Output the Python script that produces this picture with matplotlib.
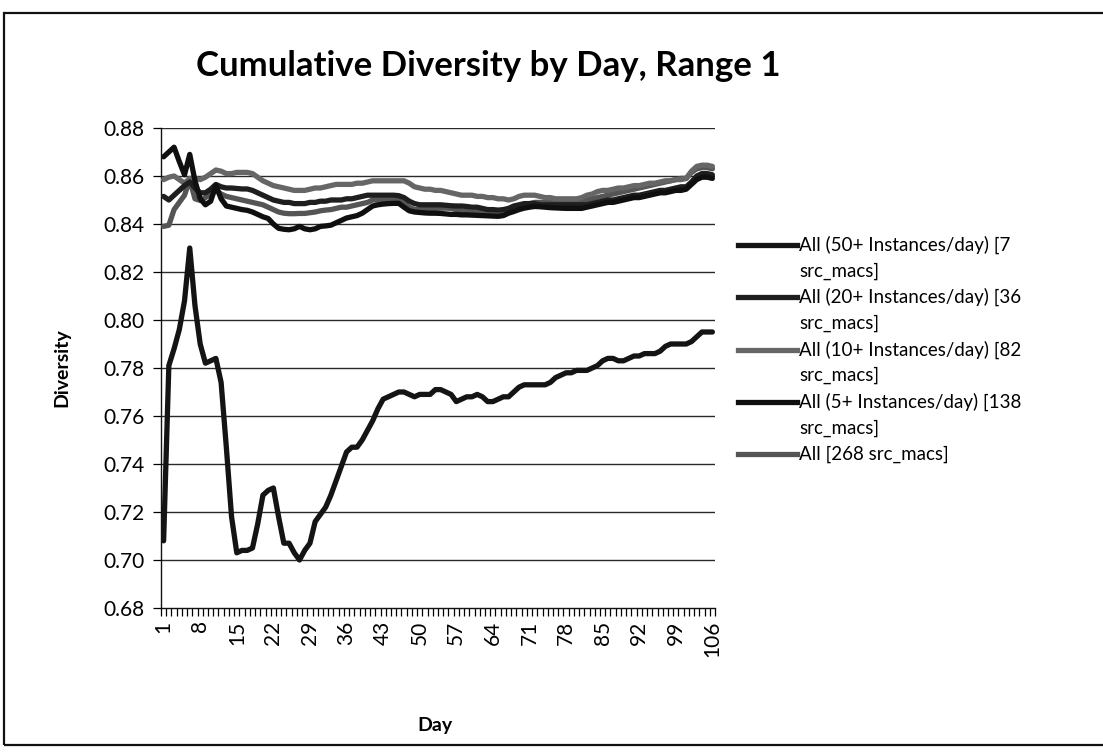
import matplotlib
matplotlib.use("Agg")
import matplotlib.pyplot as plt
from matplotlib.lines import Line2D
from matplotlib.patches import Rectangle

plt.rcParams['font.family'] = ['Lato', 'DejaVu Sans']

title = "Cumulative Diversity by Day, Range 1"
x_label = "Day"
y_label = "Diversity"

days = list(range(1, 107))
x_tick_days = [1, 8, 15, 22, 29, 36, 43, 50, 57, 64, 71, 78, 85, 92, 99, 106]
y_ticks = [0.68, 0.70, 0.72, 0.74, 0.76, 0.78, 0.80, 0.82, 0.84, 0.86, 0.88]

labels = [
    "All (50+ Instances/day) [7\nsrc_macs]",
    "All (20+ Instances/day) [36\nsrc_macs]",
    "All (10+ Instances/day) [82\nsrc_macs]",
    "All (5+ Instances/day) [138\nsrc_macs]",
    "All [268 src_macs]",
]

inst_50 = [
    0.708, 0.781, 0.788, 0.796, 0.808, 0.830, 0.806, 0.790, 0.782, 0.783,
    0.784, 0.774, 0.747, 0.718, 0.703, 0.704, 0.704, 0.705, 0.715, 0.727,
    0.729, 0.730, 0.718, 0.707, 0.707, 0.703, 0.700, 0.704, 0.707, 0.716,
    0.719, 0.722, 0.727, 0.733, 0.739, 0.745, 0.747, 0.747, 0.750, 0.754,
    0.758, 0.763, 0.767, 0.768, 0.769, 0.770, 0.770, 0.769, 0.768, 0.769,
    0.769, 0.769, 0.771, 0.771, 0.770, 0.769, 0.766, 0.767, 0.768, 0.768,
    0.769, 0.768, 0.766, 0.766, 0.767, 0.768, 0.768, 0.770, 0.772, 0.773,
    0.773, 0.773, 0.773, 0.773, 0.774, 0.776, 0.777, 0.778, 0.778, 0.779,
    0.779, 0.779, 0.780, 0.781, 0.783, 0.784, 0.784, 0.783, 0.783, 0.784,
    0.785, 0.785, 0.786, 0.786, 0.786, 0.787, 0.789, 0.790, 0.790, 0.790,
    0.790, 0.791, 0.793, 0.795, 0.795, 0.795,
]

inst_20 = [
    0.8515, 0.8500, 0.8520, 0.8540, 0.8560, 0.8575, 0.8550, 0.8530, 0.8530, 0.8545,
    0.8565, 0.8555, 0.8550, 0.8550, 0.8548, 0.8546, 0.8546, 0.8540, 0.8530, 0.8520,
    0.8510, 0.8500, 0.8495, 0.8490, 0.8490, 0.8485, 0.8485, 0.8485, 0.8490, 0.8490,
    0.8495, 0.8495, 0.8500, 0.8500, 0.8500, 0.8505, 0.8505, 0.8510, 0.8515, 0.8520,
    0.8520, 0.8520, 0.8520, 0.8520, 0.8520, 0.8518, 0.8510, 0.8495, 0.8485, 0.8480,
    0.8480, 0.8480, 0.8480, 0.8480, 0.8478, 0.8476, 0.8475, 0.8475, 0.8473, 0.8470,
    0.8470, 0.8465, 0.8460, 0.8460, 0.8458, 0.8460, 0.8465, 0.8475, 0.8480, 0.8485,
    0.8485, 0.8485, 0.8480, 0.8480, 0.8480, 0.8480, 0.8480, 0.8480, 0.8480, 0.8480,
    0.8480, 0.8480, 0.8485, 0.8490, 0.8495, 0.8500, 0.8500, 0.8505, 0.8510, 0.8515,
    0.8520, 0.8520, 0.8525, 0.8530, 0.8535, 0.8540, 0.8540, 0.8545, 0.8550, 0.8555,
    0.8555, 0.8575, 0.8600, 0.8610, 0.8610, 0.8605,
]

inst_10 = [
    0.8585, 0.8595, 0.8600, 0.8585, 0.8570, 0.8590, 0.8590, 0.8585, 0.8595, 0.8610,
    0.8625, 0.8620, 0.8610, 0.8610, 0.8615, 0.8615, 0.8615, 0.8610, 0.8595, 0.8580,
    0.8570, 0.8560, 0.8555, 0.8550, 0.8545, 0.8540, 0.8540, 0.8540, 0.8545, 0.8550,
    0.8550, 0.8555, 0.8560, 0.8565, 0.8565, 0.8565, 0.8565, 0.8570, 0.8570, 0.8575,
    0.8580, 0.8580, 0.8580, 0.8580, 0.8580, 0.8580, 0.8580, 0.8570, 0.8555, 0.8550,
    0.8545, 0.8545, 0.8540, 0.8540, 0.8535, 0.8530, 0.8525, 0.8520, 0.8520, 0.8520,
    0.8515, 0.8515, 0.8510, 0.8510, 0.8505, 0.8505, 0.8500, 0.8505, 0.8515, 0.8520,
    0.8520, 0.8520, 0.8515, 0.8510, 0.8510, 0.8505, 0.8505, 0.8505, 0.8505, 0.8505,
    0.8510, 0.8520, 0.8525, 0.8535, 0.8540, 0.8540, 0.8545, 0.8550, 0.8550, 0.8555,
    0.8560, 0.8560, 0.8565, 0.8570, 0.8570, 0.8575, 0.8580, 0.8580, 0.8585, 0.8585,
    0.8590, 0.8620, 0.8640, 0.8645, 0.8645, 0.8640,
]

inst_5 = [
    0.8680, 0.8700, 0.8720, 0.8660, 0.8605, 0.8690, 0.8580, 0.8505, 0.8480, 0.8495,
    0.8560, 0.8505, 0.8475, 0.8470, 0.8465, 0.8460, 0.8457, 0.8450, 0.8440, 0.8430,
    0.8423, 0.8400, 0.8382, 0.8378, 0.8376, 0.8380, 0.8390, 0.8380, 0.8376, 0.8380,
    0.8390, 0.8392, 0.8395, 0.8405, 0.8415, 0.8425, 0.8430, 0.8435, 0.8445, 0.8460,
    0.8475, 0.8480, 0.8483, 0.8485, 0.8486, 0.8486, 0.8470, 0.8455, 0.8450, 0.8448,
    0.8446, 0.8445, 0.8445, 0.8444, 0.8442, 0.8440, 0.8440, 0.8438, 0.8438, 0.8437,
    0.8436, 0.8435, 0.8434, 0.8433, 0.8432, 0.8435, 0.8445, 0.8452, 0.8460, 0.8466,
    0.8470, 0.8473, 0.8472, 0.8470, 0.8468, 0.8467, 0.8466, 0.8465, 0.8465, 0.8465,
    0.8465, 0.8470, 0.8475, 0.8480, 0.8485, 0.8490, 0.8490, 0.8495, 0.8500, 0.8505,
    0.8510, 0.8510, 0.8515, 0.8520, 0.8525, 0.8530, 0.8530, 0.8535, 0.8540, 0.8540,
    0.8545, 0.8565, 0.8585, 0.8595, 0.8595, 0.8590,
]

inst_all = [
    0.8390, 0.8395, 0.8460, 0.8490, 0.8520, 0.8585, 0.8505, 0.8498, 0.8510, 0.8525,
    0.8540, 0.8525, 0.8515, 0.8510, 0.8505, 0.8500, 0.8495, 0.8490, 0.8485, 0.8480,
    0.8470, 0.8460, 0.8450, 0.8445, 0.8443, 0.8443, 0.8444, 0.8444, 0.8447, 0.8450,
    0.8455, 0.8458, 0.8460, 0.8465, 0.8470, 0.8470, 0.8475, 0.8480, 0.8485, 0.8490,
    0.8500, 0.8500, 0.8500, 0.8500, 0.8500, 0.8498, 0.8485, 0.8470, 0.8460, 0.8460,
    0.8460, 0.8462, 0.8465, 0.8466, 0.8466, 0.8465, 0.8460, 0.8455, 0.8452, 0.8450,
    0.8450, 0.8448, 0.8445, 0.8440, 0.8438, 0.8440, 0.8450, 0.8465, 0.8470, 0.8480,
    0.8485, 0.8490, 0.8490, 0.8490, 0.8490, 0.8490, 0.8490, 0.8490, 0.8490, 0.8492,
    0.8495, 0.8500, 0.8505, 0.8510, 0.8515, 0.8520, 0.8525, 0.8530, 0.8535, 0.8540,
    0.8545, 0.8550, 0.8555, 0.8560, 0.8565, 0.8570, 0.8575, 0.8580, 0.8585, 0.8590,
    0.8590, 0.8615, 0.8630, 0.8635, 0.8635, 0.8630,
]

series = [inst_50, inst_20, inst_10, inst_5, inst_all]
colors = ["#141414", "#1e1e1e", "#666666", "#0f0f0f", "#555555"]
draw_order = [4, 2, 0, 1, 3]

W, H = 1103, 752
fig = plt.figure(figsize=(W / 100, H / 100), dpi=100)
fig.patch.set_facecolor("white")

# outer chart frame
fig.add_artist(Rectangle((4 / W, 1 - 745 / H), 1.2, (745 - 13) / H,
                         transform=fig.transFigure, fill=False,
                         edgecolor="#111111", lw=1.6, clip_on=False))

ax = fig.add_axes([161 / W, 1 - 608 / H, (715 - 161) / W, (608 - 128) / H])

for i in draw_order:
    ax.plot(days, series[i], color=colors[i], lw=3.8,
            solid_joinstyle="round", solid_capstyle="round", zorder=3)

ax.set_xlim(0.5, 106.5)
ax.set_ylim(0.68, 0.88)

ax.set_yticks(y_ticks)
ax.set_yticklabels([f"{v:.2f}" for v in y_ticks])
for v in y_ticks[1:]:
    ax.axhline(v, color="#2a2a2a", lw=1.0, zorder=1)

ax.set_xticks(x_tick_days)
ax.set_xticklabels([str(d) for d in x_tick_days], rotation=90)
ax.set_xticks([d - 0.5 for d in days] + [106.5], minor=True)
ax.tick_params(axis="x", which="major", length=0, pad=9, labelsize=15)
ax.tick_params(axis="x", which="minor", length=6, width=0.9, direction="out")
ax.tick_params(axis="y", which="major", length=6, width=0.9, direction="out",
               labelsize=15, pad=6)

for s in ("top", "right"):
    ax.spines[s].set_visible(False)
for s in ("left", "bottom"):
    ax.spines[s].set_color("#111111")
    ax.spines[s].set_linewidth(1.0)

fig.text(488 / W, 1 - 66 / H, title, ha="center", va="center",
         fontsize=25, fontweight="bold")
fig.text(435 / W, 1 - 725 / H, x_label, ha="center", va="center",
         fontsize=14, fontweight="bold")
fig.text(62 / W, 1 - 368 / H, y_label, ha="center", va="center",
         rotation=90, fontsize=14, fontweight="bold")

# legend entries
for i, lab in enumerate(labels):
    y0 = 1 - (245 + 52.3 * i) / H
    fig.add_artist(Line2D([738 / W, 797 / W], [y0, y0], color=colors[i],
                          lw=3.8, transform=fig.transFigure))
    parts = lab.split("\n")
    fig.text(799 / W, y0, parts[0], ha="left", va="center", fontsize=13.5)
    if len(parts) > 1:
        fig.text(799 / W, y0 - 26 / H, parts[1], ha="left", va="center",
                 fontsize=13.5)

fig.savefig("out.png", dpi=100)
